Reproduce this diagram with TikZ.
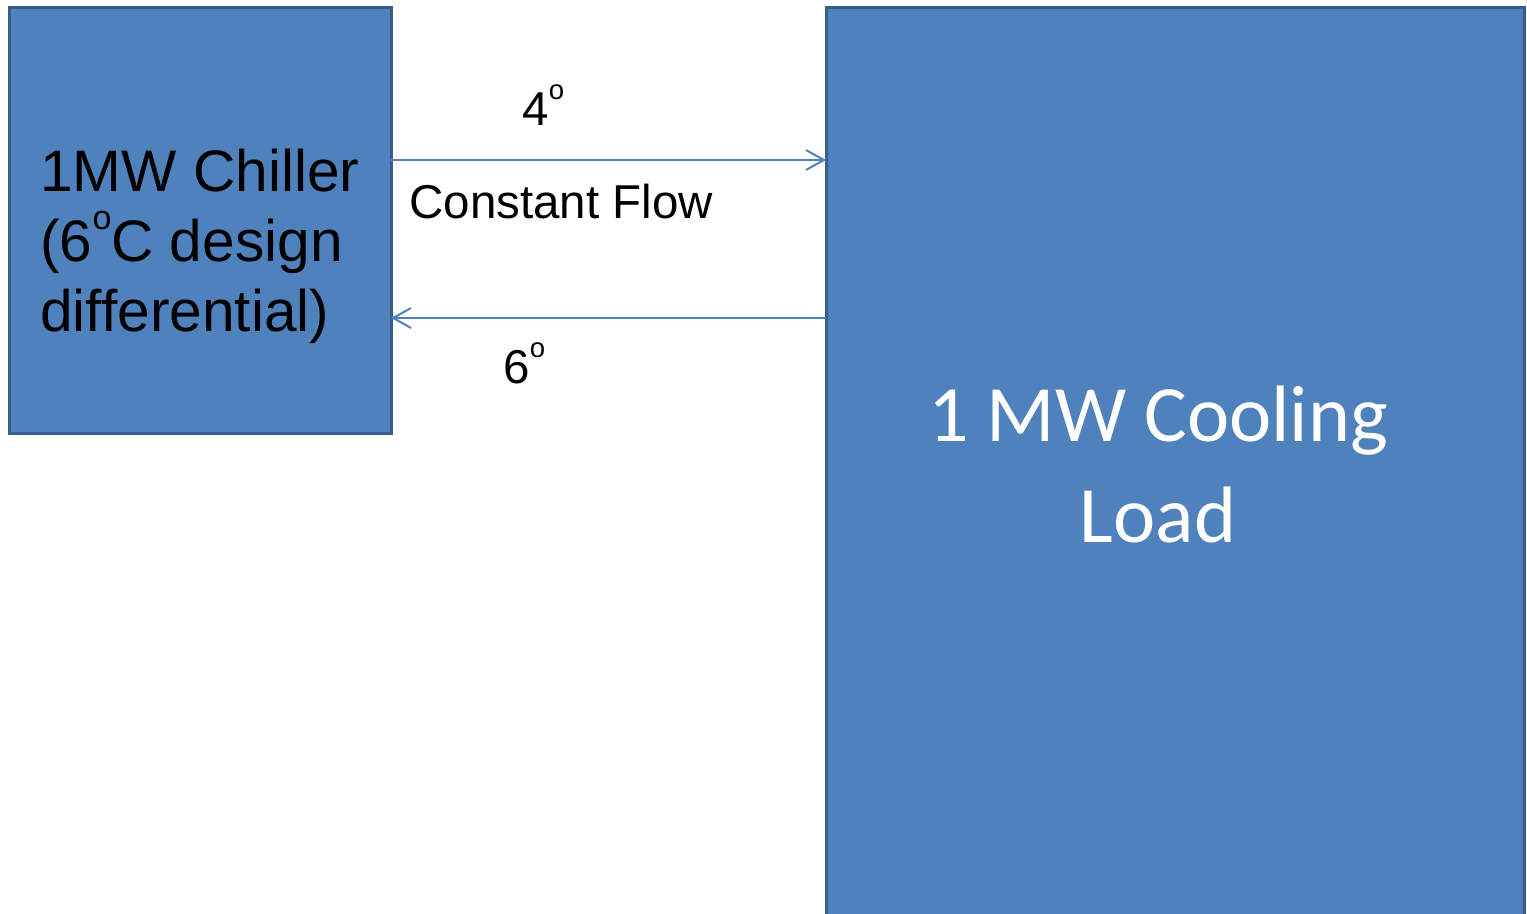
\documentclass[tikz,border=0pt]{standalone}
\usepackage{fontspec}
\setmainfont{Liberation Sans}
\newfontfamily\loadfont{Carlito}
\usetikzlibrary{arrows.meta,positioning}
\definecolor{boxfill}{HTML}{4F81BD}
\definecolor{boxline}{HTML}{385D8A}
\newcommand{\degsup}{\raisebox{.56em}{\scalebox{.58}{o}}}
\tikzset{
  unitbox/.style={draw=boxline,fill=boxfill,line width=1.5pt,inner sep=0pt,outer sep=0pt},
  flow/.style={draw=boxfill,line width=1pt,-{Straight Barb[length=9pt,width=10pt]}},
  flowlabel/.style={anchor=base west,inner sep=0pt,font=\fontsize{23.75}{28}\selectfont},
}
\begin{document}
\begin{tikzpicture}[x=0.5pt,y=-0.5pt]
				\useasboundingbox (0,0) rectangle (1527,914);
				\clip (0,0) rectangle (1527,914);
				% boxes
				\node[unitbox,minimum width=191pt,minimum height=213pt] (chiller) at (200,221) {};
				\node[unitbox,minimum width=349pt,minimum height=470pt] (load) at (1175,478) {};
				\node[anchor=base west,align=left,inner sep=0pt,font=\fontsize{29.3}{35}\selectfont] (chillertext) at (40,332) {1MW Chiller\\(6\degsup C design\\differential)};
				\node[anchor=base,align=center,inner sep=0pt,text=white,font=\loadfont\fontsize{40}{51}\selectfont] (loadtext) at (1158,543) {1 MW Cooling\\Load};
				% pipes
				\draw[flow] (chiller.east |- 0,160) -- (load.west |- 0,160);
				\draw[flow] (load.west |- 0,318) -- (chiller.east |- 0,318);
				\node[flowlabel] (supplytemp) at (522,126) {4\degsup};
				\node[flowlabel] (flowtext) at (409,219) {Constant Flow};
				\node[flowlabel] (returntemp) at (503,384) {6\degsup};
\end{tikzpicture}
\end{document}
